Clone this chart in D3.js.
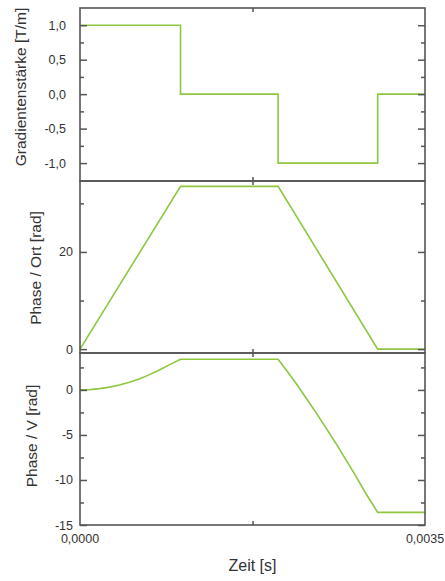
<!DOCTYPE html>
<html>
<head>
<meta charset="utf-8">
<script src="https://cdn.jsdelivr.net/npm/d3@7"></script>
<style>
  body { margin: 0; background: #fff; }
  svg text { font-family: "Liberation Sans", Arial, sans-serif; fill: #333; }
</style>
</head>
<body>
<svg id="chart" width="445" height="581"></svg>
<script>
const width = 445;
const height = 581;

// time axis
const timeDomain = [0, 0.0035];
const timeTicks = [0, 0.00175, 0.0035];
const timeLabels = ["0,0000", "0,0035"];

// panel 1: gradient strength
const gradTime = [0, 0.00102, 0.00201, 0.00302, 0.0035];
const gradValue = [1, 0, -1, 0, 0];
const gradTicks = [1, 0.5, 0, -0.5, -1];
const gradTickLabels = ["1,0", "0,5", "0,0", "-0,5", "-1,0"];
const gradMinor = [1.25, 0.75, 0.25, -0.25, -0.75, -1.25];

// panel 2: phase / position
const ortTime = [0, 0.00102, 0.00201, 0.00302, 0.0035];
const ortValue = [0, 33.5, 33.5, 0, 0];
const ortTicks = [0, 20];
const ortTickLabels = ["0", "20"];
const ortMinor = [10, 30];

// panel 3: phase / velocity
const vTime = [0, 0.0001, 0.0002, 0.0003, 0.0004, 0.0005, 0.0006, 0.0007, 0.0008, 0.0009, 0.00102,
  0.00201, 0.0021, 0.0022, 0.0023, 0.0024, 0.0025, 0.0026, 0.0027, 0.0028, 0.0029, 0.00302, 0.0035];
const vValue = [0, 0.03, 0.14, 0.31, 0.54, 0.85, 1.22, 1.67, 2.18, 2.75, 3.4,
  3.4, 2.1, 0.6, -1.0, -2.6, -4.3, -6.0, -7.8, -9.6, -11.5, -13.6, -13.6];
const vTicks = [0, -5, -10, -15];
const vTickLabels = ["0", "-5", "-10", "-15"];
const vMinor = [2.5, -2.5, -7.5, -12.5];

const left = 80, right = 425;
const lineColor = "#8dc63f";
const axisColor = "#555";

const panels = [
  { top: 8, bottom: 181, domain: [-1.26, 1.25], time: gradTime, values: gradValue, step: true,
    ticks: gradTicks, labels: gradTickLabels, minor: gradMinor, pad: 14,
    title: "Gradientenstärke [T/m]", titleX: 22, titleY: 87 },
  { top: 181, bottom: 353, domain: [-0.8, 34.6], time: ortTime, values: ortValue, step: false,
    ticks: ortTicks, labels: ortTickLabels, minor: ortMinor, pad: 7,
    title: "Phase / Ort [rad]", titleX: 37, titleY: 268 },
  { top: 353, bottom: 525, domain: [-15, 4.1], time: vTime, values: vValue, step: false,
    ticks: vTicks, labels: vTickLabels, minor: vMinor, pad: 7,
    title: "Phase / V [rad]", titleX: 33, titleY: 436 }
];

const svg = d3.select("#chart");
const x = d3.scaleLinear().domain(timeDomain).range([left, right]);

panels.forEach(p => {
  const y = d3.scaleLinear().domain(p.domain).range([p.bottom, p.top]);
  const g = svg.append("g");

  // curve
  const line = d3.line()
    .x((d, i) => x(p.time[i]))
    .y(d => y(d))
    .curve(p.step ? d3.curveStepAfter : d3.curveLinear);
  g.append("path")
    .attr("d", line(p.values))
    .attr("fill", "none")
    .attr("stroke", lineColor)
    .attr("stroke-width", 1.6);

  // left axis, ticks inward
  const leftAxis = g.append("g").attr("transform", `translate(${left},0)`)
    .call(d3.axisLeft(y).tickValues(p.ticks).tickSize(-7).tickPadding(p.pad)
      .tickFormat((d, i) => p.labels[i]));
  leftAxis.select(".domain").remove();
  leftAxis.selectAll("text").style("font-size", "12.5px");

  const leftMinor = g.append("g").attr("transform", `translate(${left},0)`)
    .call(d3.axisLeft(y).tickValues(p.minor.filter(v => v > p.domain[0] && v < p.domain[1]))
      .tickSize(-4).tickFormat(""));
  leftMinor.select(".domain").remove();

  // right axis, ticks inward
  const rightAxis = g.append("g").attr("transform", `translate(${right},0)`)
    .call(d3.axisRight(y).tickValues(p.ticks).tickSize(-7).tickFormat(""));
  rightAxis.select(".domain").remove();
  const rightMinor = g.append("g").attr("transform", `translate(${right},0)`)
    .call(d3.axisRight(y).tickValues(p.minor.filter(v => v > p.domain[0] && v < p.domain[1]))
      .tickSize(-4).tickFormat(""));
  rightMinor.select(".domain").remove();

  // top / bottom time ticks
  const topAxis = g.append("g").attr("transform", `translate(0,${p.top})`)
    .call(d3.axisTop(x).tickValues(timeTicks.slice(1, 2)).tickSize(-4).tickFormat(""));
  topAxis.select(".domain").remove();
  const bottomAxis = g.append("g").attr("transform", `translate(0,${p.bottom})`)
    .call(d3.axisBottom(x).tickValues(timeTicks.slice(1, 2)).tickSize(-4).tickFormat(""));
  bottomAxis.select(".domain").remove();

  g.selectAll(".tick line").attr("stroke", axisColor).attr("stroke-width", 1.5);

  // frame
  g.append("rect")
    .attr("x", left).attr("y", p.top)
    .attr("width", right - left).attr("height", p.bottom - p.top)
    .attr("fill", "none")
    .attr("stroke", axisColor)
    .attr("stroke-width", 1.6);

  // title
  g.append("text")
    .attr("transform", `translate(${p.titleX},${p.titleY}) rotate(-90)`)
    .attr("text-anchor", "middle")
    .attr("dominant-baseline", "middle")
    .style("font-size", "15.5px")
    .text(p.title);
});

// bottom time labels
svg.selectAll(".time-label")
  .data([timeTicks[0], timeTicks[2]])
  .enter().append("text")
  .attr("class", "time-label")
  .attr("x", d => x(d))
  .attr("y", 540)
  .attr("text-anchor", "middle")
  .attr("dominant-baseline", "middle")
  .style("font-size", "12.5px")
  .text((d, i) => timeLabels[i]);

svg.append("text")
  .attr("x", x(0.00175))
  .attr("y", 567)
  .attr("text-anchor", "middle")
  .attr("dominant-baseline", "middle")
  .style("font-size", "16px")
  .text("Zeit [s]");
</script>
</body>
</html>
